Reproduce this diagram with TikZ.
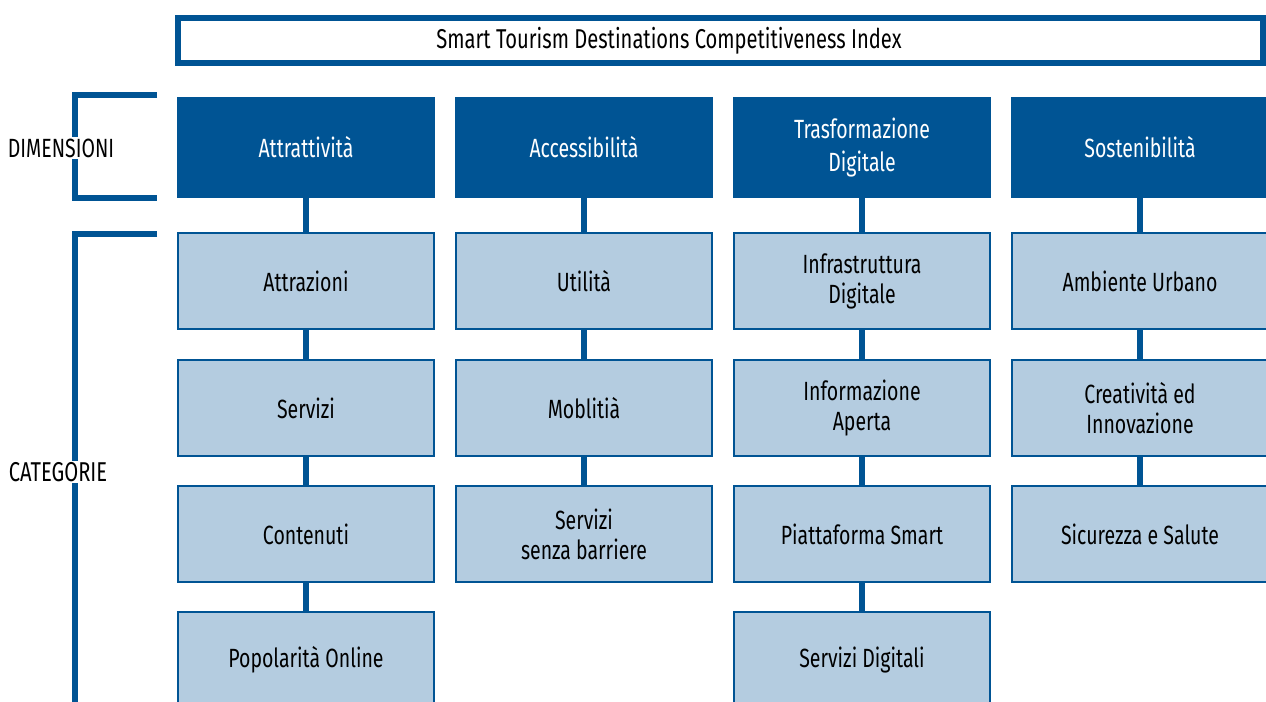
\documentclass[tikz,border=0pt]{standalone}
\usepackage{fontspec}
\setmainfont[FakeStretch=0.74]{Fira Sans}
\usepackage{tikz}
\usepackage{xcolor}
\usetikzlibrary{positioning}
\definecolor{stdblue}{RGB}{0,84,148}
\definecolor{stdlight}{RGB}{180,204,224}
\tikzset{
  dimbox/.style={fill=stdblue,text=white,minimum width=5.16cm,minimum height=2.02cm,align=center,inner sep=0pt,font=\fontsize{15}{19}\selectfont},
  catbox/.style={draw=stdblue,line width=0.04cm,fill=stdlight,minimum width=5.12cm,minimum height=1.92cm,align=center,inner sep=0pt},
  link/.style={stdblue,line width=0.12cm},
  lbl/.style={fill=white,inner sep=1pt}
}

\begin{document}
\begin{tikzpicture}[x=0.02cm,y=-0.02cm,font=\fontsize{15}{17}\selectfont]
\useasboundingbox(0,0)rectangle(1266,702);
% title
\draw[stdblue,line width=0.12cm](178,18)rectangle(1263,63.5);
\node(idx) at (669,41){\fontsize{15.5}{17}\selectfont Smart Tourism Destinations Competitiveness Index};
% brackets on the left
\coordinate(dtop) at (157,95);
\coordinate(dbot) at (157,198);
\coordinate(ctop) at (157,234);
\coordinate(cbot) at (75,710);
\draw[link](dtop)-|(75,198)--(dbot);
\draw[link](ctop)-|(cbot);
\node[lbl](dimlbl) at (61,148){DIMENSIONI};
\node[lbl](catlbl) at (58,472){\fontsize{15.5}{17}\selectfont CATEGORIE};
% dimensions
\node[dimbox](d1) at (306,147.5){Attrattività};
\node[dimbox](d2) at (584,147.5){Accessibilità};
\node[dimbox](d3) at (862,147.5){Trasformazione\\Digitale};
\node[dimbox](d4) at (1140,147.5){Sostenibilità};
% categories
\node[catbox](c11) at (306,281){Attrazioni};
\node[catbox](c12) at (306,408){Servizi};
\node[catbox](c13) at (306,534){Contenuti};
\node[catbox](c14) at (306,660){Popolarità Online};
\node[catbox](c21) at (584,281){Utilità};
\node[catbox](c22) at (584,408){Moblitià};
\node[catbox](c23) at (584,534){Servizi\\senza barriere};
\node[catbox](c31) at (862,281){Infrastruttura\\Digitale};
\node[catbox](c32) at (862,408){Informazione\\Aperta};
\node[catbox](c33) at (862,534){Piattaforma Smart};
\node[catbox](c34) at (862,660){Servizi Digitali};
\node[catbox](c41) at (1140,281){Ambiente Urbano};
\node[catbox](c42) at (1140,408){Creatività ed\\Innovazione};
\node[catbox](c43) at (1140,534){Sicurezza e Salute};
% links
\draw[link](d1)--(c11) (c11)--(c12) (c12)--(c13) (c13)--(c14);
\draw[link](d2)--(c21) (c21)--(c22) (c22)--(c23);
\draw[link](d3)--(c31) (c31)--(c32) (c32)--(c33) (c33)--(c34);
\draw[link](d4)--(c41) (c41)--(c42) (c42)--(c43);
\end{tikzpicture}
\end{document}
